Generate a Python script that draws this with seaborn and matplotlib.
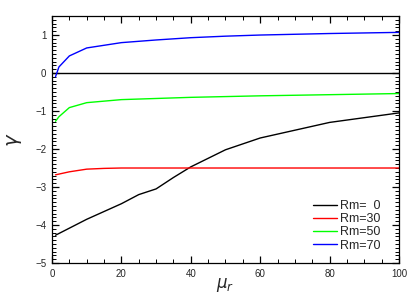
import numpy as np
import pandas as pd
import matplotlib
matplotlib.use("Agg")
import matplotlib.pyplot as plt
import seaborn as sns
from matplotlib.ticker import MultipleLocator
from matplotlib.lines import Line2D

# Data
mu_black = [1, 10, 20, 25, 30, 35, 40, 50, 60, 80, 100]
g_black = [-4.27, -3.85, -3.44, -3.2, -3.05, -2.75, -2.47, -2.02, -1.71, -1.3, -1.05]

mu_red = [1, 2, 5, 10, 15, 20, 40, 60, 80, 100]
g_red = [-2.68, -2.66, -2.6, -2.53, -2.51, -2.5, -2.5, -2.5, -2.5, -2.5]

mu_green = [1, 2, 5, 10, 20, 30, 40, 60, 80, 100]
g_green = [-1.27, -1.15, -0.91, -0.78, -0.70, -0.67, -0.64, -0.60, -0.57, -0.54]

mu_blue = [1, 2, 5, 10, 20, 30, 40, 50, 60, 80, 100]
g_blue = [-0.1, 0.16, 0.45, 0.66, 0.8, 0.87, 0.93, 0.97, 1.0, 1.04, 1.07]

labels = ["Rm=  0", "Rm=30", "Rm=50", "Rm=70"]
colors = ["#000000", "#ff0000", "#00ff00", "#0000ff"]

frames = []
for lab, xs, ys in zip(labels, [mu_black, mu_red, mu_green, mu_blue],
                       [g_black, g_red, g_green, g_blue]):
    frames.append(pd.DataFrame({"mu": xs, "gamma": ys, "Rm": lab}))
df = pd.concat(frames, ignore_index=True)

sns.set_style("ticks")
plt.rcParams['font.family'] = ['Liberation Sans', 'DejaVu Sans']
plt.rcParams['mathtext.fontset'] = 'dejavusans'

fig = plt.figure(figsize=(4.15, 2.97), dpi=100)
ax = fig.add_axes([0.1253, 0.1145, 0.8361, 0.8315])

ax.axhline(0, color="black", lw=1.0)
sns.lineplot(data=df, x="mu", y="gamma", hue="Rm", palette=colors,
             hue_order=labels, lw=1.0, ax=ax, legend=False, sort=False,
             estimator=None)

ax.set_xlim(0, 100)
ax.set_ylim(-5, 1.5)
ax.xaxis.set_major_locator(MultipleLocator(20))
ax.xaxis.set_minor_locator(MultipleLocator(5))
ax.yaxis.set_major_locator(MultipleLocator(1))
ax.yaxis.set_minor_locator(MultipleLocator(0.1))
ax.tick_params(which="both", direction="in", top=True, right=True,
               labelsize=7, color="black", pad=4)
ax.tick_params(which="major", length=5, width=0.9)
ax.tick_params(which="minor", length=3, width=0.7)
for s in ax.spines.values():
    s.set_linewidth(0.9)
    s.set_color("black")

ax.set_xlabel(r"$\mu_r$", fontsize=12, labelpad=-2)
ax.set_ylabel(r"$\gamma$", fontsize=14, labelpad=8)

handles = [Line2D([], [], color=c, lw=1.0) for c in colors]
ax.legend(handles, labels, loc="lower right", frameon=False, fontsize=9,
          handlelength=1.9, handletextpad=0.3, labelspacing=0.1,
          bbox_to_anchor=(0.98, 0.0))

fig.savefig("out.png", dpi=100)
